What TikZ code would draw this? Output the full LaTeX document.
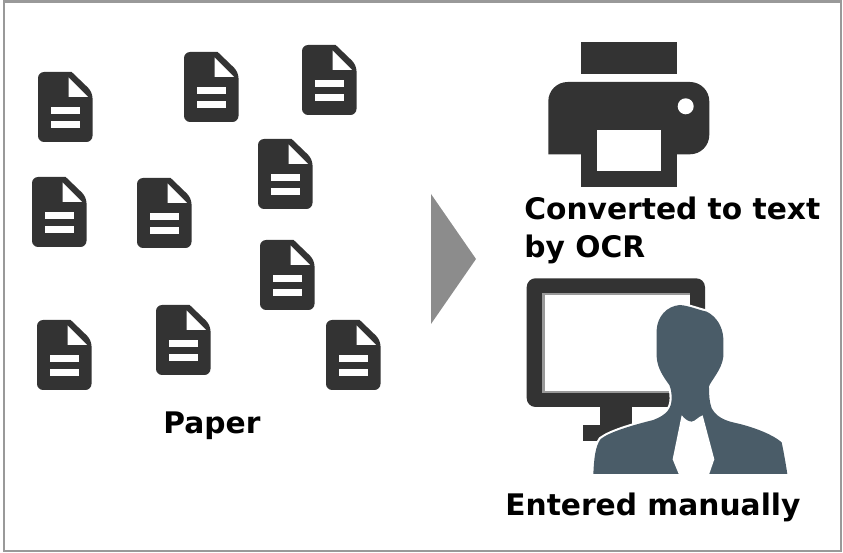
\documentclass[tikz,border=0pt]{standalone}
\usepackage{xcolor}
\usepackage{fontspec}
\setmainfont{DejaVu Sans}
\usepackage{tikz}
\usetikzlibrary{positioning,calc}
\definecolor{icondark}{HTML}{333333}
\definecolor{framegray}{HTML}{999999}
\definecolor{arrowgray}{HTML}{8C8C8C}
\definecolor{personblue}{HTML}{4A5C68}
\tikzset{
    label text/.style={font=\bfseries\fontsize{16.9pt}{22pt}\selectfont, text=black, inner sep=0pt, anchor=base west},
    paper icon/.pic={
        \fill [icondark, rounded corners=3.5pt] (33.7, 0) [rounded corners=3.5pt] -- (0, 0) -- (0, 70) -- (54.5, 70) -- (54.5, 20) [sharp corners] -- cycle;
        \fill [white] (30.5, 5.5) -- (30.5, 25) -- (50, 25) -- cycle;
        \fill [white] (13, 34.7) rectangle (41.5, 42);
        \fill [white] (13, 48.7) rectangle (41.5, 56.3);
    }
}
\begin{document}
\begin{tikzpicture}[x=0.02cm, y=-0.02cm]
    \useasboundingbox (0, 0) rectangle (843, 553);
    % Frame
    \draw [framegray, line width=1.7pt] (4, 2) rectangle (841, 551);

    % Paper
    \foreach \px/\py in {38/72, 184/52, 302/45, 258/139, 32/177, 137/178, 260/240, 37/320, 156/305, 326/320}
        \pic at (\px, \py) {paper icon};
    \node [label text] (paper) at (163, 434) {Paper};

    % Arrow
    \fill [arrowgray] (431, 194) -- (476, 259) -- (431, 324) -- cycle;

    % Printer
    \fill [icondark] (580.7, 41.7) rectangle (677.3, 73.7);
    \fill [icondark, rounded corners=11pt] (548.3, 154.3) -- (548.3, 82) -- (709.3, 82) -- (709.3, 154.3) [sharp corners] -- cycle;
    \fill [icondark] (580.7, 150) rectangle (677.3, 186.7);
    \fill [white] (597, 130.3) rectangle (661.3, 170.7);
    \fill [white] (685.7, 106.3) circle (8);
    \node [label text] (ocr1) at (524, 220) {Converted to text};
    \node [label text] (ocr2) at (524, 258) {by OCR};

    % Monitor
    \fill [icondark, rounded corners=5pt] (526.7, 278.3) rectangle (705, 407);
    \fill [gray!80] (541.7, 293) rectangle (690, 393);
    \fill [white] (545, 295) rectangle (690, 391);
    \fill [icondark] (600, 407) rectangle (631.7, 430);
    \fill [icondark] (583, 425) rectangle (631.7, 440.7);

    % Person
    \begin{scope}[shift={(510, 270)}, x=0.00667cm, y=-0.00667cm]
        \fill [personblue, preaction={draw=white, line width=2.4pt}]
            (250, 612) .. controls (252, 570) and (255, 530) .. (272, 507)
            .. controls (300, 485) and (370, 465) .. (430, 450)
            .. controls (470, 435) and (485, 415) .. (485, 385)
            .. controls (485, 365) and (482, 355) .. (478, 345)
            .. controls (460, 320) and (442, 295) .. (440, 260)
            -- (440, 180)
            .. controls (442, 140) and (470, 108) .. (510, 105)
            .. controls (540, 108) and (560, 118) .. (590, 125)
            .. controls (620, 140) and (638, 170) .. (640, 205)
            -- (640, 260)
            .. controls (636, 300) and (600, 335) .. (597, 350)
            .. controls (597, 375) and (598, 395) .. (605, 415)
            .. controls (625, 450) and (660, 455) .. (690, 462)
            .. controls (740, 475) and (790, 495) .. (815, 517)
            .. controls (822, 550) and (828, 585) .. (832, 612)
            -- cycle;
        \fill [white] (515, 436) -- (488, 568) -- (507, 614) -- (597, 614) -- (613, 568) -- (578, 436)
            .. controls (565, 440) and (555, 455) .. (545, 455)
            .. controls (535, 455) and (525, 448) .. (515, 436) -- cycle;
    \end{scope}
    \node [label text] (manual) at (505, 516) {Entered manually};
\end{tikzpicture}
\end{document}
